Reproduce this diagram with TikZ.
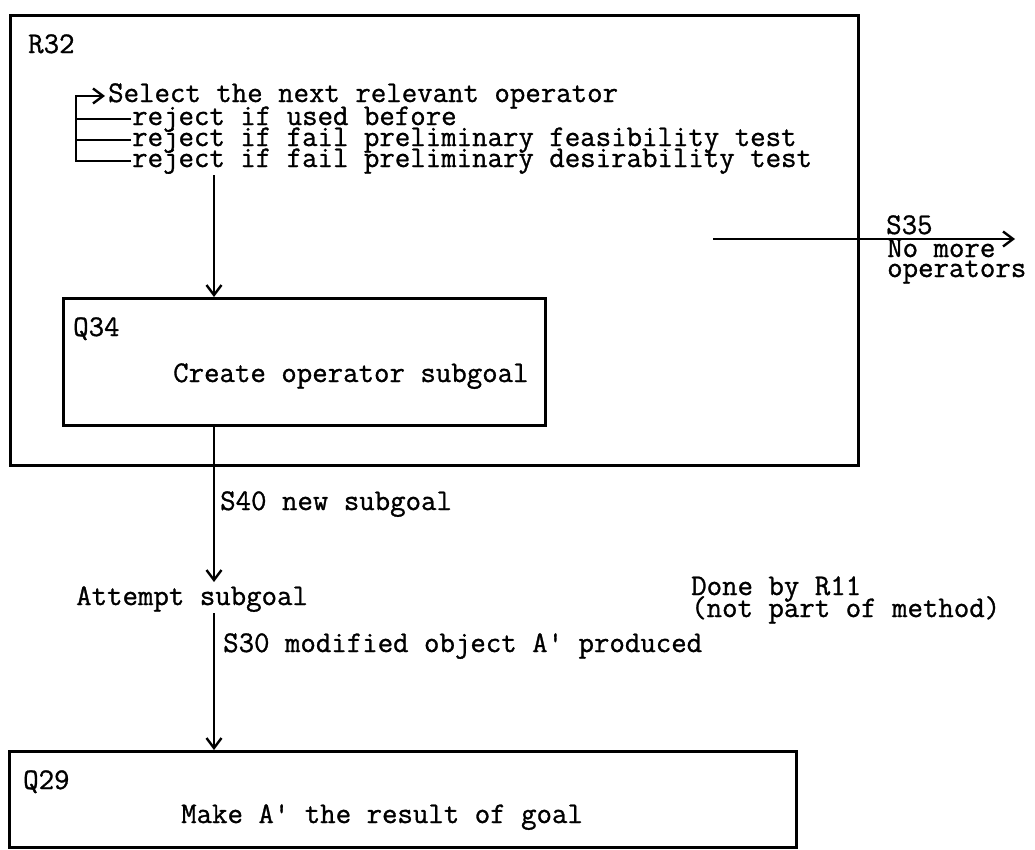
\documentclass[tikz,border=0pt]{standalone}
\usepackage{fontspec}
\newfontfamily\twfont{Latin Modern Mono}[FakeBold=1]
\usetikzlibrary{arrows.meta}
\begin{document}
\begin{tikzpicture}[x=1pt,y=-1pt, line width=2.4pt, line join=miter,
  txt/.style={font=\twfont\fontsize{30}{20}\selectfont, inner sep=0pt, anchor=base west},
  box/.style={draw, line width=2.8pt, anchor=north west, inner sep=0pt},
  arr/.style={-{Straight Barb[length=10pt,width=15pt,line width=2.4pt]}, line width=2.4pt}]
\useasboundingbox (0,0) rectangle (1035,849);
% boxes
\node[box, minimum width=848pt, minimum height=450pt] (R32) at (9,14) {};
\node[box, minimum width=482pt, minimum height=127pt] (Q34) at (62,297) {};
\node[box, minimum width=787pt, minimum height=96pt] (Q29) at (8,750) {};
% R32 contents
\node[txt] (r32l) at (27,53) {R32};
\node[txt] (sel) at (107,102) {Select the next relevant operator};
\node[txt] (rj1) at (131,125) {reject if used before};
\node[txt] (rj2) at (131,146) {reject if fail preliminary feasibility test};
\node[txt] (rj3) at (131,167) {reject if fail preliminary desirability test};
\coordinate (lp) at (76,100);
\draw (rj1.west) -- (rj1.west -| lp);
\draw (rj2.west) -- (rj2.west -| lp);
\draw[arr] (rj3.west) -- (rj3.west -| lp) -- (sel.west -| lp) -- ([xshift=-2pt]sel.west);
\coordinate (a1) at (214,175);
\draw[arr] (a1) -- (a1 |- Q34.north);
% Q34 contents
\node[txt] (q34l) at (72,336) {Q34};
\node[txt] (create) at (172,382) {Create operator subgoal};
% S35
\coordinate (s35s) at (713,239);
\coordinate (s35e) at (1015,239);
\draw[arr] (s35s) -- (s35e);
\node[txt] (s35) at (885,234) {S35};
\node[txt] (nm1) at (886,257) {No more};
\node[txt] (nm2) at (886,277) {operators};
% lower flow
\coordinate (att) at (214,582);
\draw[arr] (Q34.south -| a1) -- (att);
\node[txt] (s40) at (219,510) {S40 new subgoal};
\node[txt] (attempt) at (75,605) {Attempt subgoal};
\node[txt] (done1) at (690,595) {Done by R11};
\node[txt] (done2) at (690,617) {(not part of method)};
\coordinate (att2) at (214,613);
\draw[arr] (att2) -- (att2 |- Q29.north);
\node[txt] (s30) at (222,652) {S30 modified object A' produced};
% Q29 contents
\node[txt] (q29l) at (22,789) {Q29};
\node[txt] (make) at (180,823) {Make A' the result of goal};
\end{tikzpicture}
\end{document}
